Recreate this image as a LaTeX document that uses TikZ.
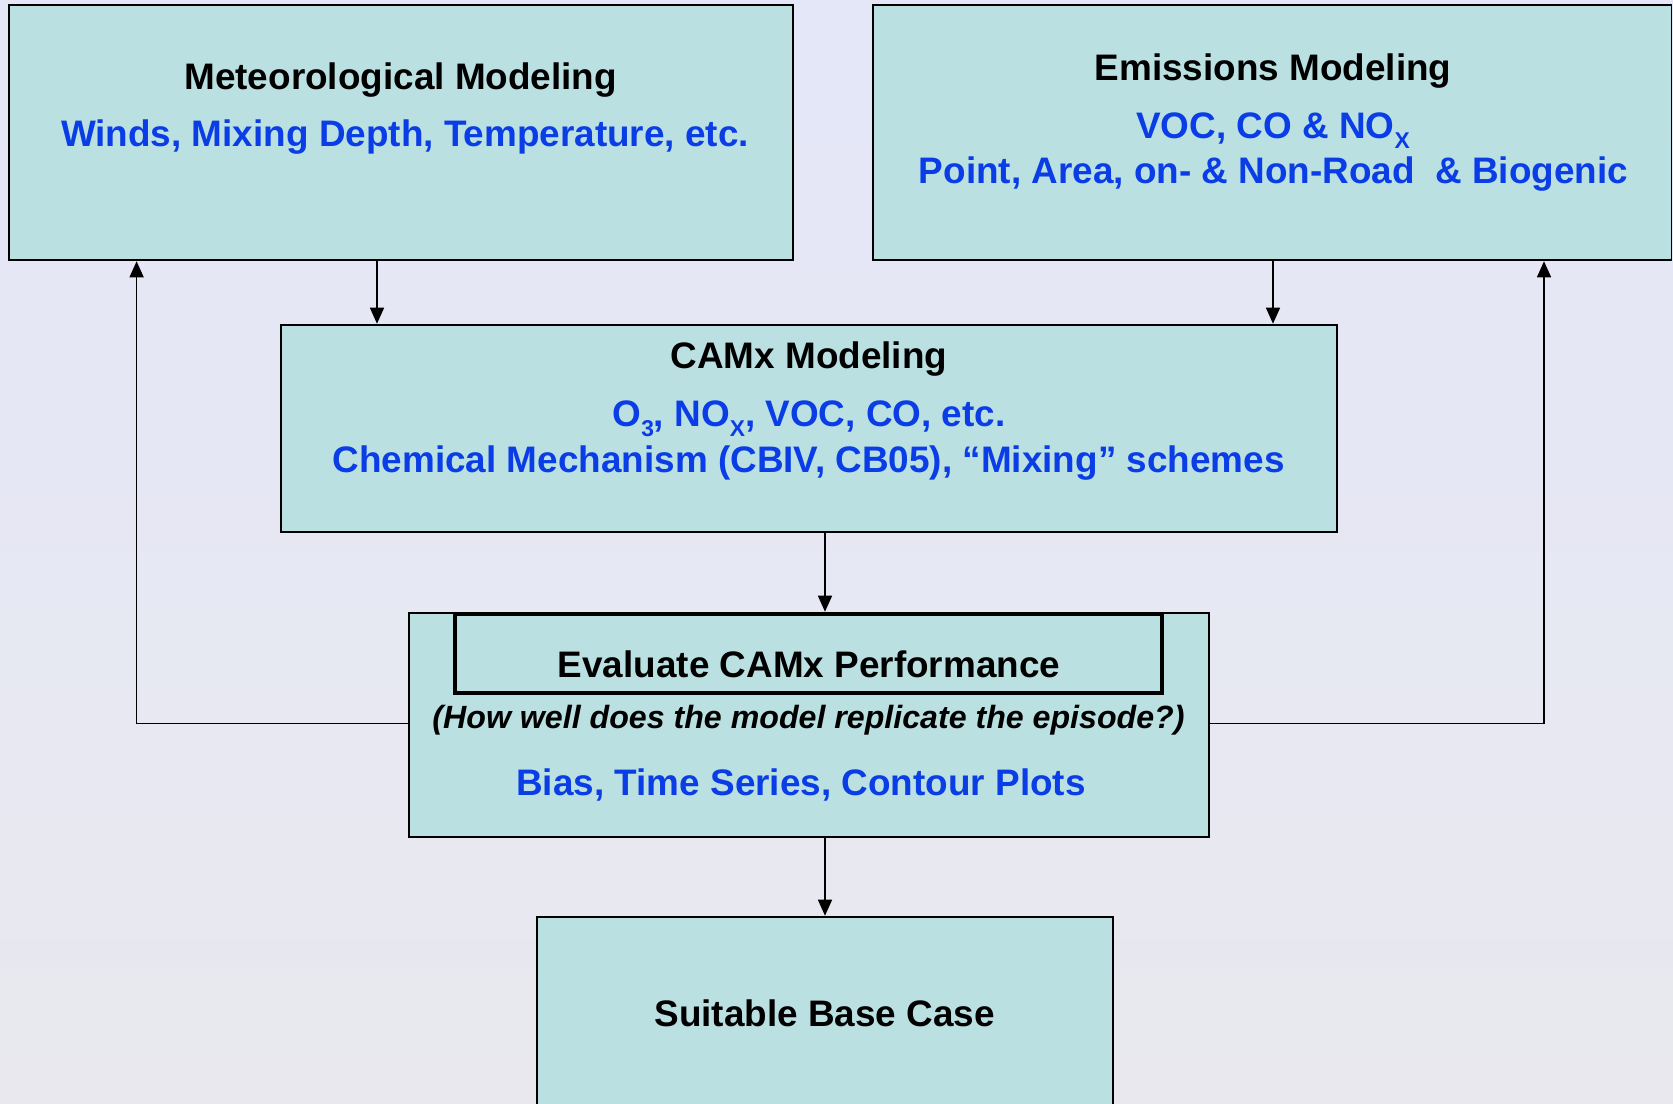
\documentclass[tikz,border=0pt]{standalone}
\usepackage{fontspec}
\setmainfont{Liberation Sans}
\usetikzlibrary{arrows.meta,fit}

\definecolor{skytop}{HTML}{E4E7F8}
\definecolor{skymid}{HTML}{F0F1F9}
\definecolor{skylow}{HTML}{E8E8EE}
\definecolor{boxfill}{HTML}{BAE0E2}
\definecolor{itemblue}{HTML}{0A3DE6}

\newcommand{\lowsub}[1]{\raisebox{-0.27em}{\fontsize{13}{13}\selectfont #1}}

\tikzset{
  modelbox/.style={draw=black, fill=boxfill, line width=1.1pt, inner sep=0pt},
  headbox/.style={draw=black, line width=2.3pt, inner sep=0pt},
  title/.style={anchor=base, inner sep=0pt, font=\fontsize{21}{25}\selectfont\bfseries},
  item/.style={title, text=itemblue},
  flow/.style={-{Triangle[length=0.32cm,width=0.28cm]}, line width=0.8pt},
}

\begin{document}
\begin{tikzpicture}[x=0.02cm,y=-0.02cm]
  \useasboundingbox (0,0) rectangle (1673,1104);
  \clip (0,0) rectangle (1673,1104);
  \shade[top color=skytop, middle color=skymid, bottom color=skylow] (0,0) rectangle (1673,1104);

  % boxes
  \node[modelbox, fit={(8.6,4.7) (792.8,260.3)}] (met) {};
  \node[modelbox, fit={(872.8,4.7) (1671.5,260.3)}] (emis) {};
  \node[modelbox, fit={(281,324.7) (1337.3,532)}] (camx) {};
  \node[modelbox, fit={(409,612.7) (1209,836.7)}] (eval) {};
  \node[headbox, fit={(455,614) (1162,693)}] (evalHead) {};
  \node[modelbox, fit={(536.6,916.7) (1112.8,1140)}] (base) {};

  % texts
  \node[title] (metTitle) at (400.7,89.3) {Meteorological Modeling};
  \node[item] (metText) at (405,146.7) {Winds, Mixing Depth, Temperature, etc.};

  \node[title] (emisTitle) at (1273,81) {Emissions Modeling};
  \node[item] (emisGas) at (1273,138.3) {VOC, CO \& NO\lowsub{X}};
  \node[item] (emisSrc) at (1273.5,183.3) {Point, Area, on- \& Non-Road\ \ \& Biogenic};

  \node[title] (camxTitle) at (809,368.3) {CAMx Modeling};
  \node[item] (camxGas) at (809,426.7) {O\lowsub{3}, NO\lowsub{X}, VOC, CO, etc.};
  \node[item] (camxChem) at (808.7,472.7) {Chemical Mechanism (CBIV, CB05), “Mixing” schemes};

  \node[title] (evalTitle) at (809,677.3) {Evaluate CAMx Performance};
  \node[title, font=\fontsize{18.3}{22}\selectfont\bfseries\itshape] (evalAsk) at (808.5,728.3) {(How well does the model replicate the episode?)};
  \node[item] (evalText) at (801,795) {Bias, Time Series, Contour Plots};

  \node[title] (baseTitle) at (824.7,1026.7) {Suitable Base Case};

  % connectors
  \coordinate (metDrop) at (377,0);
  \coordinate (emisDrop) at (1273,0);
  \coordinate (camxDrop) at (825,0);
  \coordinate (loopL) at (136.6,723.3);
  \coordinate (loopR) at (1544,723.3);

  \draw[flow] (met.south -| metDrop) -- (camx.north -| metDrop);
  \draw[flow] (emis.south -| emisDrop) -- (camx.north -| emisDrop);
  \draw[flow] (camx.south -| camxDrop) -- (eval.north -| camxDrop);
  \draw[flow] (eval.south -| camxDrop) -- (base.north -| camxDrop);
  \draw[flow] (eval.west |- loopL) -- (loopL) -- (met.south -| loopL);
  \draw[flow] (eval.east |- loopR) -- (loopR) -- (emis.south -| loopR);
\end{tikzpicture}
\end{document}
